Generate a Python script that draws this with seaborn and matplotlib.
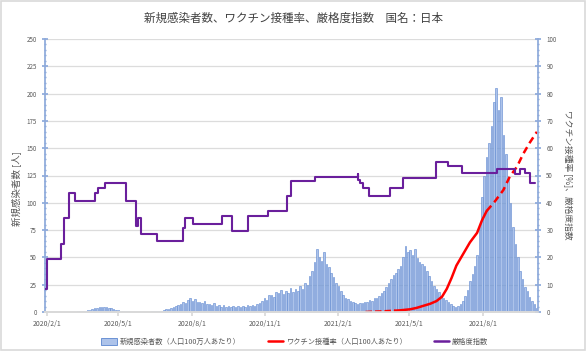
import pandas as pd
import matplotlib
matplotlib.use("Agg")
import matplotlib.pyplot as plt
import seaborn as sns
from matplotlib.patches import Patch, Rectangle
from matplotlib.lines import Line2D
from matplotlib.ticker import MultipleLocator

START = pd.Timestamp("2020-02-01")

# new cases per million, one reading every 3 days from 2020/2/1
case_step = 3
cases_per_million = [
    0.0, 0.0, 0.0, 0.1, 0.1, 0.1, 0.1, 0.1, 0.2, 0.2,
    0.3, 0.3, 0.4, 0.5, 0.6, 0.8, 1.2, 1.5, 2.2, 2.8,
    3.5, 3.8, 4.6, 5.0, 4.2, 4.5, 3.6, 3.3, 2.6, 2.0,
    1.5, 1.1, 0.8, 0.6, 0.5, 0.4, 0.4, 0.3, 0.3, 0.3,
    0.3, 0.3, 0.4, 0.4, 0.5, 0.6, 0.7, 0.8, 1.2, 1.8,
    2.4, 3.0, 3.8, 4.5, 5.5, 6.0, 7.5, 9.0, 8.5, 11.0,
    13.0, 10.5, 11.5, 9.0, 9.5, 8.0, 10.0, 7.0, 7.5, 6.5,
    8.0, 5.5, 6.5, 5.0, 6.0, 4.8, 5.5, 4.5, 5.2, 4.6,
    5.5, 4.8, 5.8, 5.0, 6.0, 5.2, 6.2, 5.5, 7.0, 8.0,
    10.0, 12.5, 11.0, 15.5, 16.0, 14.0, 18.0, 17.0, 20.0, 16.5,
    19.5, 17.5, 22.0, 18.0, 21.0, 19.0, 23.5, 21.0, 27.0, 25.0,
    33.0, 38.0, 46.0, 58.0, 50.0, 47.0, 55.0, 44.0, 41.0, 36.0,
    32.0, 27.0, 24.0, 19.0, 16.0, 13.0, 11.5, 10.0, 9.0, 8.5,
    7.5, 8.5, 8.0, 9.5, 9.0, 11.0, 10.0, 13.0, 12.5, 15.0,
    17.0, 19.0, 23.0, 27.0, 30.0, 34.0, 36.0, 39.0, 42.0, 50.0,
    60.0, 55.0, 57.0, 52.0, 58.0, 49.0, 46.0, 44.0, 42.0, 38.0,
    33.0, 28.0, 24.0, 21.0, 18.0, 15.0, 13.0, 11.0, 9.0, 7.0,
    5.5, 5.0, 5.5, 7.0, 10.0, 15.0, 20.0, 28.0, 35.0, 42.0,
    52.0, 78.0, 105.0, 125.0, 142.0, 155.0, 170.0, 192.0, 205.0, 185.0,
    197.0, 162.0, 145.0, 122.0, 100.0, 78.0, 62.0, 50.0, 38.0, 30.0,
    23.0, 19.0, 14.0, 10.0, 7.0, 4.0,
]

# stringency index: date of each change and the level from then on
stringency_dates = [
    "2020-01-30", "2020-02-02", "2020-02-19", "2020-02-23", "2020-02-29",
    "2020-03-07", "2020-04-02", "2020-04-05", "2020-04-14", "2020-05-11",
    "2020-05-23", "2020-05-25", "2020-05-29", "2020-06-18", "2020-07-21",
    "2020-07-24", "2020-08-03", "2020-09-08", "2020-09-21", "2020-10-11",
    "2020-11-05", "2020-11-28", "2020-12-04", "2021-01-03", "2021-02-25",
    "2021-02-26", "2021-02-28", "2021-03-04", "2021-03-11", "2021-04-07",
    "2021-04-23", "2021-06-04", "2021-06-18", "2021-07-06", "2021-08-19",
    "2021-09-10", "2021-09-17", "2021-09-23", "2021-09-29", "2021-10-06",
]
stringency_values = [
    8.3, 19.4, 25.0, 34.3, 43.5,
    40.7, 43.5, 45.4, 47.2, 40.7,
    31.5, 34.3, 28.7, 25.9, 30.6,
    34.3, 32.4, 35.2, 29.6, 35.2,
    37.0, 42.6, 48.1, 49.5, 50.5,
    48.4, 47.2, 45.4, 42.6, 45.4,
    49.1, 55.1, 53.3, 50.9, 52.3,
    50.5, 52.3, 50.9, 47.2, 47.2,
]

# vaccination rate per 100 people, in three stretches (dashed, solid, dashed)
vax_start_dates = ["2021-03-07", "2021-03-15", "2021-03-25", "2021-04-04", "2021-04-13"]
vax_start_values = [0.0, 0.1, 0.2, 0.35, 0.5]
vax_mid_dates = [
    "2021-04-13", "2021-04-19", "2021-05-02", "2021-05-10", "2021-05-19",
    "2021-05-27", "2021-06-04", "2021-06-11", "2021-06-17", "2021-06-23",
    "2021-06-29", "2021-07-08", "2021-07-16", "2021-07-25", "2021-07-31",
    "2021-08-06",
]
vax_mid_values = [
    0.5, 0.6, 1.0, 1.5, 2.3,
    3.0, 4.0, 5.6, 8.5, 12.5,
    17.0, 21.5, 25.5, 29.0, 33.5,
    37.0,
]
vax_end_dates = [
    "2021-08-06", "2021-08-16", "2021-08-27", "2021-09-04", "2021-09-13",
    "2021-09-21", "2021-09-29", "2021-10-08",
]
vax_end_values = [37.0, 40.4, 44.7, 49.6, 53.2, 58.0, 62.0, 66.0]

tick_dates = ["2020-02-01", "2020-05-01", "2020-08-01", "2020-11-01",
              "2021-02-01", "2021-05-01", "2021-08-01"]
tick_labels = ["2020/2/1", "2020/5/1", "2020/8/1", "2020/11/1",
               "2021/2/1", "2021/5/1", "2021/8/1"]


def to_days(dates):
    return list((pd.to_datetime(dates) - START).days)


sns.set_theme(style="white")
plt.rcParams["font.family"] = ["Noto Sans CJK JP", "DejaVu Sans"]

BAR_FACE = "#adc3ea"
BAR_EDGE = "#5b86cf"
AXIS_BLUE = "#8eaadb"
PURPLE = "#6a1f9c"
TXT = "#595959"

fig = plt.figure(figsize=(5.86, 3.51), dpi=100)
ax = fig.add_axes([45 / 586, 39 / 351, 493 / 586, 273 / 351])

case_days = [i * case_step for i in range(len(cases_per_million))]
sns.barplot(x=case_days, y=cases_per_million, native_scale=True, width=0.65,
            color=BAR_FACE, edgecolor=BAR_EDGE, linewidth=0.4, saturation=1,
            errorbar=None, ax=ax)

ax2 = ax.twinx()
sns.lineplot(x=to_days(vax_start_dates), y=vax_start_values, ax=ax2, color="red",
             linewidth=1.8, sort=False, linestyle=(0, (2.6, 1.2)))
sns.lineplot(x=to_days(vax_mid_dates), y=vax_mid_values, ax=ax2, color="red",
             linewidth=1.8, sort=False)
sns.lineplot(x=to_days(vax_end_dates), y=vax_end_values, ax=ax2, color="red",
             linewidth=1.8, sort=False, linestyle=(0, (2.8, 1.8)))
sns.lineplot(x=to_days(stringency_dates), y=stringency_values, ax=ax2, color=PURPLE,
             linewidth=1.5, sort=False, drawstyle="steps-post")

ax.set_xlim(-2.1, 616.4)
ax.set_ylim(0, 250)
ax2.set_ylim(0, 100)
ax.set_xticks(to_days(tick_dates))
ax.set_xticklabels(tick_labels)
ax.yaxis.set_major_locator(MultipleLocator(25))
ax.yaxis.set_minor_locator(MultipleLocator(5))
ax2.yaxis.set_major_locator(MultipleLocator(10))
ax2.yaxis.set_minor_locator(MultipleLocator(2))

ax.set_axisbelow(True)
ax.yaxis.grid(True, color="#dcdcdc", linewidth=0.9)
ax.xaxis.grid(False)

for a in (ax, ax2):
    a.spines["top"].set_visible(False)
    a.spines["bottom"].set_color("#d9d9d9")
    a.spines["left"].set_color(AXIS_BLUE)
    a.spines["right"].set_color(AXIS_BLUE)
    a.set_xlabel("")
    a.set_ylabel("")
ax.spines["right"].set_visible(False)
ax2.spines["left"].set_visible(False)

ax.tick_params(axis="y", which="major", direction="inout", length=4, color=AXIS_BLUE,
               labelsize=4.5, labelcolor=TXT, pad=4, left=True)
ax.tick_params(axis="y", which="minor", direction="inout", length=2, color=AXIS_BLUE, left=True)
ax2.tick_params(axis="y", which="major", direction="inout", length=4, color=AXIS_BLUE,
                labelsize=4.5, labelcolor=TXT, pad=4, right=True)
ax2.tick_params(axis="y", which="minor", direction="inout", length=2, color=AXIS_BLUE, right=True)
ax.tick_params(axis="x", direction="out", length=3, color="#d9d9d9",
               labelsize=5, labelcolor=TXT, pad=3, bottom=True)

fig.text(16.5 / 586, 1 - 189 / 351, "新規感染者数 [人]", rotation=90, ha="center",
         va="center", fontsize=6.8, color=TXT)
fig.text(568 / 586, 1 - 175 / 351, "ワクチン接種率 [%]、厳格度指数", rotation=-90,
         ha="center", va="center", fontsize=6.3, color=TXT)
fig.text(293.5 / 586, 1 - 18 / 351, "新規感染者数、ワクチン接種率、厳格度指数　国名：日本",
         ha="center", va="center", fontsize=8.3, color="#404040")

handles = [
    Patch(facecolor=BAR_FACE, edgecolor=BAR_EDGE, linewidth=0.6),
    Line2D([], [], color="red", linewidth=1.8),
    Line2D([], [], color=PURPLE, linewidth=1.8),
]
labels = ["新規感染者数（人口100万人あたり）", "ワクチン接種率（人口100人あたり）", "厳格度指数"]
fig.legend(handles, labels, loc="center", bbox_to_anchor=(295 / 586, 1 - 342 / 351),
           ncol=3, frameon=False, fontsize=5.2, handlelength=2.1, handleheight=1.0,
           columnspacing=3.8, handletextpad=0.4, labelcolor=TXT)

fig.patches.append(Rectangle((0.002, 0.003), 0.996, 0.994, transform=fig.transFigure,
                             fill=False, edgecolor="#d9d9d9", linewidth=1.2))

fig.savefig("out.png", dpi=100, facecolor="white")
